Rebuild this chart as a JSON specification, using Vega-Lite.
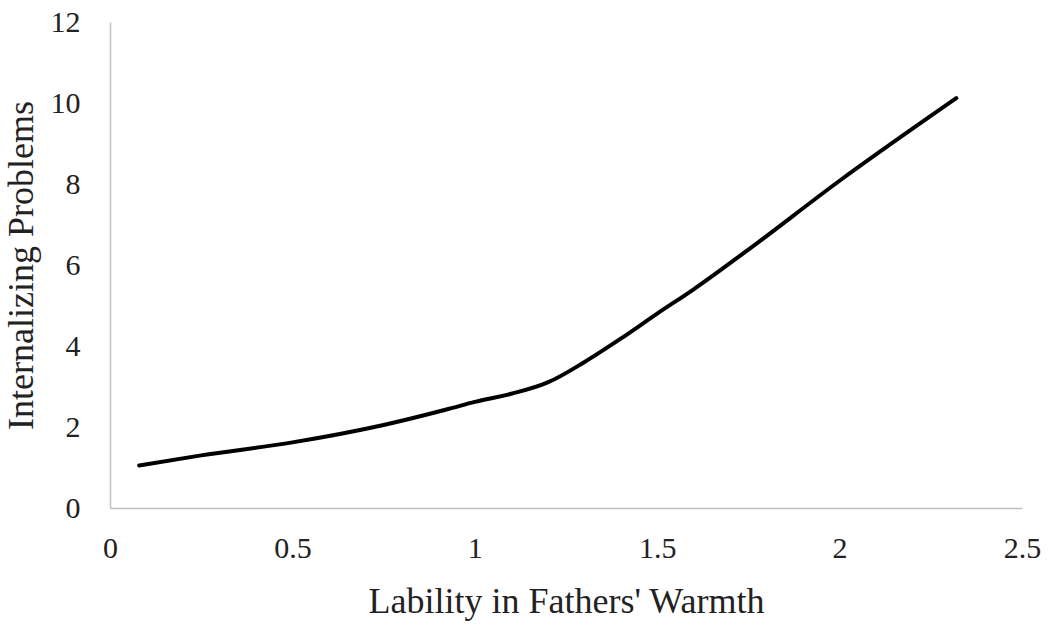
{
  "$schema": "https://vega.github.io/schema/vega-lite/v6.json",
  "width": 912,
  "height": 486,
  "autosize": {"type": "none"},
  "padding": {"left": 110, "top": 22, "right": 28, "bottom": 122},
  "background": "white",
  "config": {"view": {"stroke": null}, "font": "Liberation Serif"},
  "data": {"values": [
    {"x": 0.08, "y": 1.05},
    {"x": 0.25, "y": 1.3},
    {"x": 0.5, "y": 1.62},
    {"x": 0.75, "y": 2.05},
    {"x": 0.93, "y": 2.45},
    {"x": 1.0, "y": 2.62},
    {"x": 1.1, "y": 2.82},
    {"x": 1.2, "y": 3.1},
    {"x": 1.3, "y": 3.6},
    {"x": 1.4, "y": 4.18},
    {"x": 1.5, "y": 4.8},
    {"x": 1.6, "y": 5.4},
    {"x": 1.75, "y": 6.38},
    {"x": 2.0, "y": 8.08},
    {"x": 2.32, "y": 10.12}
  ]},
  "mark": {"type": "line", "color": "black", "strokeWidth": 4, "interpolate": "monotone", "strokeCap": "round"},
  "encoding": {
    "x": {"field": "x", "type": "quantitative", "scale": {"domain": [0, 2.5], "nice": false},
      "axis": {"title": "Lability in Fathers' Warmth", "values": [0, 0.5, 1, 1.5, 2, 2.5], "format": "~g", "grid": false, "ticks": false,
        "domainColor": "#c0c0c0", "domainWidth": 1.5, "labelFont": "Liberation Serif", "labelFontSize": 30, "labelColor": "#222",
        "labelPadding": 25, "titleFont": "Liberation Serif", "titleFontSize": 36, "titleFontWeight": "normal", "titleColor": "#222", "titlePadding": 21, "labelFlush": false}},
    "y": {"field": "y", "type": "quantitative", "scale": {"domain": [0, 12], "nice": false},
      "axis": {"title": "Internalizing Problems", "values": [0, 2, 4, 6, 8, 10, 12], "grid": false, "ticks": false,
        "domainColor": "#c0c0c0", "domainWidth": 1.5, "labelFont": "Liberation Serif", "labelFontSize": 30, "labelColor": "#222",
        "labelPadding": 30, "titleFont": "Liberation Serif", "titleFontSize": 36, "titleFontWeight": "normal", "titleColor": "#222", "titlePadding": 10, "labelFlush": false}}
  }
}
